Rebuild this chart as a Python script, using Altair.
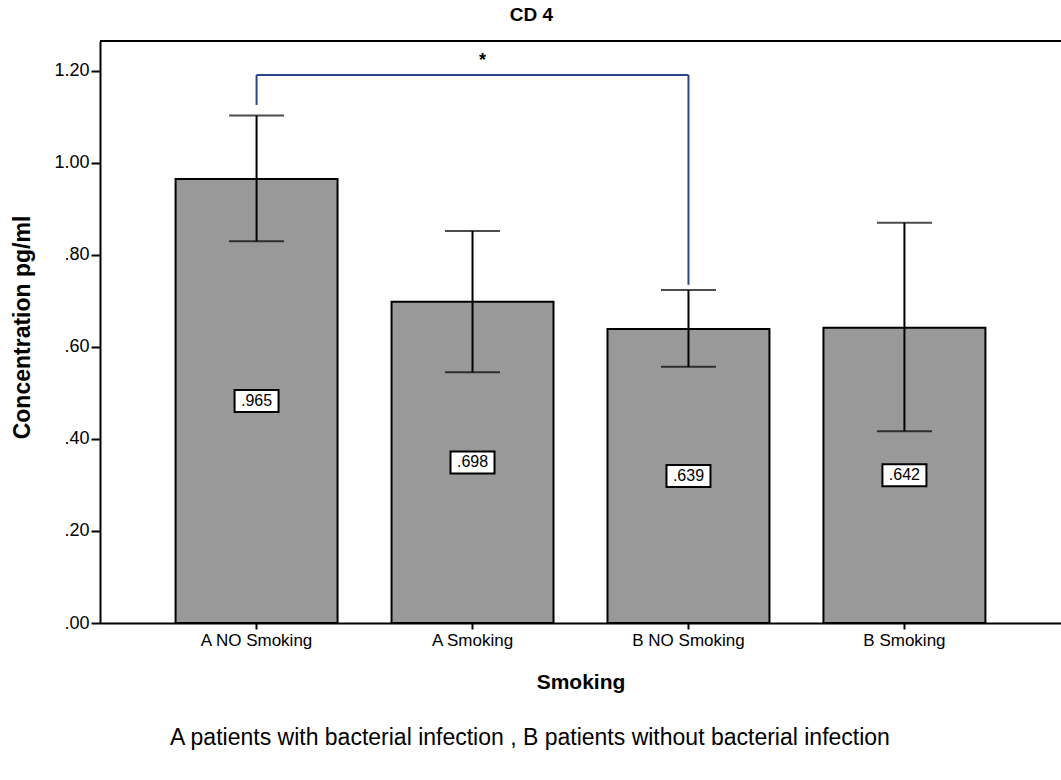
import altair as alt
import pandas as pd

# Group means with their error-bar limits (concentration, pg/ml)
groups = ["A NO Smoking", "A Smoking", "B NO Smoking", "B Smoking"]
means = [0.965, 0.698, 0.639, 0.642]
err_low = [0.830, 0.545, 0.557, 0.417]
err_high = [1.103, 0.852, 0.724, 0.870]

# Significance bracket between "A NO Smoking" and "B NO Smoking"
bracket_x = ["A NO Smoking", "A NO Smoking", "B NO Smoking"]
bracket_x2 = ["A NO Smoking", "B NO Smoking", "B NO Smoking"]
bracket_y = [1.126, 1.191, 1.191]
bracket_y2 = [1.191, 1.191, 0.735]

FONT = "Liberation Sans"
W, H = 961, 582
Y_MAX = 1.265

df = pd.DataFrame({"group": groups, "mean": means, "lo": err_low, "hi": err_high})
df["label"] = [("%.3f" % v).lstrip("0") for v in means]
df["mid"] = [v / 2 for v in means]

br = pd.DataFrame({"x": bracket_x, "x2": bracket_x2, "y": bracket_y, "y2": bracket_y2})

x_scale = alt.Scale(domain=groups, paddingInner=0.25, paddingOuter=0.35)
y_scale = alt.Scale(domain=[0, Y_MAX], nice=False, zero=True)

x_axis = alt.Axis(
    title="Smoking", titleFont=FONT, titleFontSize=21, titleFontWeight="bold",
    titleColor="black", titleY=59, titleBaseline="middle",
    labelFont=FONT, labelFontSize=17, labelColor="black", labelAngle=0, labelPadding=3,
    domainColor="black", domainWidth=2, tickColor="black", tickWidth=2, tickSize=6,
)
y_axis = alt.Axis(
    title="Concentration pg/ml", titleFont=FONT, titleFontSize=23, titleFontWeight="bold",
    titleColor="black", titleX=-78, titleY=286, titleAngle=270, titleBaseline="middle",
    titleAlign="center",
    values=[0, 0.2, 0.4, 0.6, 0.8, 1.0, 1.2],
    labelExpr="replace(format(datum.value, '.2f'), /^0/, '')",
    labelFont=FONT, labelFontSize=18, labelColor="black", labelPadding=2,
    domainColor="black", domainWidth=2, tickColor="black", tickWidth=2, tickSize=9,
    grid=False,
)

base = alt.Chart(df)

bars = base.mark_bar(fill="#999999", stroke="black", strokeWidth=2).encode(
    x=alt.X("group:N", scale=x_scale, axis=x_axis, sort=groups),
    y=alt.Y("mean:Q", scale=y_scale, axis=y_axis),
)

err = base.mark_rule(color="black", strokeWidth=2).encode(
    x=alt.X("group:N", scale=x_scale, sort=groups),
    y=alt.Y("lo:Q", scale=y_scale),
    y2="hi:Q",
)
cap_lo = base.mark_tick(color="black", thickness=2, size=55, orient="horizontal").encode(
    x=alt.X("group:N", scale=x_scale, sort=groups),
    y=alt.Y("lo:Q", scale=y_scale),
)
cap_hi = base.mark_tick(color="black", thickness=2, size=55, orient="horizontal").encode(
    x=alt.X("group:N", scale=x_scale, sort=groups),
    y=alt.Y("hi:Q", scale=y_scale),
)

boxes = base.mark_point(
    shape="M-1,-0.5L1,-0.5L1,0.5L-1,0.5Z", size=44 * 44, filled=True,
    fill="white", stroke="black", strokeWidth=2, opacity=1,
).encode(
    x=alt.X("group:N", scale=x_scale, sort=groups),
    y=alt.Y("mid:Q", scale=y_scale),
)
labels = base.mark_text(font=FONT, fontSize=16, color="black", baseline="middle").encode(
    x=alt.X("group:N", scale=x_scale, sort=groups),
    y=alt.Y("mid:Q", scale=y_scale),
    text="label:N",
)

bracket = alt.Chart(br).mark_rule(color="#2b4585", strokeWidth=2).encode(
    x=alt.X("x:N", scale=x_scale, sort=groups),
    x2="x2:N",
    y=alt.Y("y:Q", scale=y_scale),
    y2="y2:Q",
)
star = alt.Chart(pd.DataFrame({"x": ["A Smoking"], "y": [1.222], "t": ["*"]})).mark_text(
    font=FONT, fontSize=18, fontWeight="bold", color="black", dx=10, baseline="middle"
).encode(
    x=alt.X("x:N", scale=x_scale, sort=groups),
    y=alt.Y("y:Q", scale=y_scale),
    text="t:N",
)

# top border of the plot frame
top_line = alt.Chart(pd.DataFrame({"a": [0]})).mark_rule(color="black", strokeWidth=2).encode(
    x=alt.value(0), x2=alt.value(W), y=alt.value(0)
)

caption = alt.Chart(pd.DataFrame({"t": ["A patients with bacterial infection , B patients without bacterial infection"]})).mark_text(
    font=FONT, fontSize=23, color="black", baseline="middle", align="center"
).encode(x=alt.value(430), y=alt.value(697), text="t:N")

chart = alt.layer(
    bars, err, cap_lo, cap_hi, boxes, labels, bracket, star, top_line, caption
).properties(
    width=W, height=H,
    title=alt.TitleParams("CD 4", font=FONT, fontSize=19, fontWeight="bold", color="black",
                          anchor="middle", dx=-49, offset=15),
    autosize=alt.AutoSizeParams(type="none"),
    padding={"left": 100, "top": 41, "right": 0, "bottom": 150},
).configure_view(fill="#f0f0f0", stroke=None).configure(background="white")

chart.save("out.html", embed_options={"renderer": "svg", "actions": False})
